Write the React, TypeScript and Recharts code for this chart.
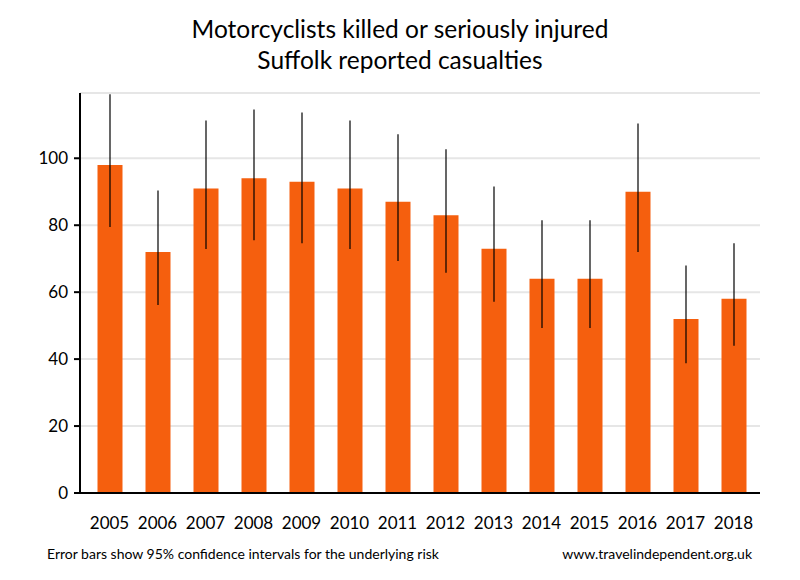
import * as React from "react"
import { BarChart, Bar, XAxis, YAxis, CartesianGrid, ErrorBar } from "recharts"

const years = ["2005", "2006", "2007", "2008", "2009", "2010", "2011", "2012", "2013", "2014", "2015", "2016", "2017", "2018"]
const casualties = [98, 72, 91, 94, 93, 91, 87, 83, 73, 64, 64, 90, 52, 58]
const lowerCI = [79.5, 56.2, 72.9, 75.5, 74.6, 72.9, 69.3, 65.8, 57.1, 49.3, 49.3, 72, 38.8, 44]
const upperCI = [119.1, 90.4, 111.3, 114.6, 113.7, 111.3, 107.2, 102.7, 91.6, 81.5, 81.5, 110.4, 68, 74.6]
const yTicks = [0, 20, 40, 60, 80, 100]

const data = years.map((year, i) => ({
  year,
  value: casualties[i],
  err: [casualties[i] - lowerCI[i], upperCI[i] - casualties[i]],
}))

const font = "Lato, 'Open Sans', sans-serif"

export default function App() {
  return (
    <div style={{ position: "absolute", left: 0, top: 0, width: 800, height: 580, background: "#fff", fontFamily: font }}>
      <div style={{ position: "absolute", top: 13, width: 800, textAlign: "center", fontSize: 24.5, lineHeight: "31px", color: "#000" }}>
        Motorcyclists killed or seriously injured
        <br />
        Suffolk reported casualties
      </div>
      <BarChart width={800} height={580} data={data} margin={{ top: 93, right: 40, left: 0, bottom: 57 }}>
        <CartesianGrid vertical={false} stroke="#e6e6e6" strokeWidth={2} />
        <XAxis
          dataKey="year"
          padding={{ left: 5.5, right: 2.5 }}
          axisLine={{ stroke: "#000", strokeWidth: 2 }}
          tickLine={false}
          tickMargin={18}
          tick={{ fill: "#000", fontSize: 17, fontFamily: font }}
          interval={0}
        />
        <YAxis
          width={80}
          domain={[0, 119.5]}
          ticks={yTicks}
          axisLine={{ stroke: "#000", strokeWidth: 2 }}
          tickLine={{ stroke: "#000", strokeWidth: 2 }}
          tickSize={6}
          tickMargin={6}
          tick={{ fill: "#000", fontSize: 17, fontFamily: font }}
        />
        <Bar dataKey="value" fill="#F55F0E" barSize={25} isAnimationActive={false}>
          <ErrorBar dataKey="err" width={0} stroke="#000" strokeWidth={1.2} direction="y" />
        </Bar>
      </BarChart>
      <div style={{ position: "absolute", top: 545, left: 47, fontSize: 14, color: "#000" }}>
        Error bars show 95% confidence intervals for the underlying risk
      </div>
      <div style={{ position: "absolute", top: 545, right: 48, fontSize: 14, color: "#000" }}>
        www.travelindependent.org.uk
      </div>
    </div>
  )
}
